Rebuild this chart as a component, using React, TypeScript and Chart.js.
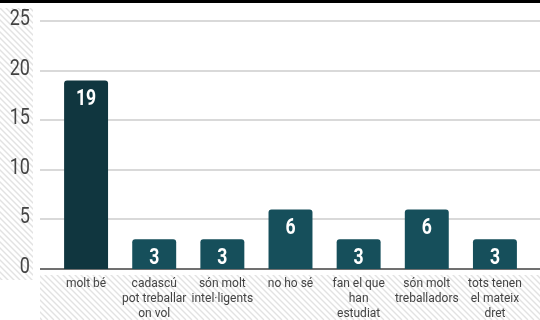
import React, { useEffect, useRef } from "react";
import { Chart, registerables } from "chart.js";

Chart.register(...registerables);

const categories: string[][] = [
  ["molt bé"],
  ["cadascú", "pot treballar", "on vol"],
  ["són molt", "intel·ligents"],
  ["no ho sé"],
  ["fan el que", "han", "estudiat"],
  ["són molt", "treballadors"],
  ["tots tenen", "el mateix", "dret"],
];
const values: number[] = [19, 3, 3, 6, 3, 6, 3];
const barColors: string[] = ["#10363f", "#164f5b", "#164f5b", "#164f5b", "#164f5b", "#164f5b", "#164f5b"];
const yMin = 0;
const yMax = 25;
const yStep = 5;

const FONT = "Roboto, 'Liberation Sans', sans-serif";

function narrowText(ctx: any, text: string, x: number, y: number, sx: number) {
  ctx.save();
  ctx.translate(x, y);
  ctx.scale(sx, 1);
  ctx.fillText(text, 0, 0);
  ctx.restore();
}

const backgroundPlugin = {
  id: "bgHatch",
  beforeDraw(chart: any) {
    const ctx = chart.ctx;
    ctx.save();
    ctx.fillStyle = "#ffffff";
    ctx.fillRect(0, 0, chart.width, chart.height);
    const regions = [
      [0, 8, 33, 272],
      [40, 275, 500, 45],
    ];
    ctx.strokeStyle = "#e2e2e2";
    ctx.lineWidth = 1.4;
    for (const [rx, ry, rw, rh] of regions) {
      ctx.save();
      ctx.beginPath();
      ctx.rect(rx, ry, rw, rh);
      ctx.clip();
      ctx.beginPath();
      for (let k = -chart.height; k < chart.width + chart.height; k += 6) {
        ctx.moveTo(k, 0);
        ctx.lineTo(k + chart.height, chart.height);
      }
      ctx.stroke();
      ctx.restore();
    }
    ctx.fillStyle = "#000000";
    ctx.fillRect(0, 0, chart.width, 3);
    ctx.restore();
  },
};

const gridPlugin = {
  id: "customGrid",
  beforeDatasetsDraw(chart: any) {
    const ctx = chart.ctx;
    const y = chart.scales.y;
    ctx.save();
    for (let v = yMin; v <= yMax; v += yStep) {
      const py = Math.round(y.getPixelForValue(v));
      ctx.beginPath();
      ctx.strokeStyle = v === 0 ? "#707070" : "#d9d9d9";
      ctx.lineWidth = 2;
      ctx.moveTo(40, py);
      ctx.lineTo(540, py);
      ctx.stroke();
      ctx.fillStyle = "#444444";
      ctx.font = `22px ${FONT}`;
      ctx.textAlign = "right";
      ctx.textBaseline = "middle";
      narrowText(ctx, String(v), 30, py - 2, 0.82);
    }
    ctx.restore();
  },
};

const labelPlugin = {
  id: "barLabels",
  afterDatasetsDraw(chart: any) {
    const ctx = chart.ctx;
    const meta = chart.getDatasetMeta(0);
    ctx.save();
    ctx.fillStyle = "#ffffff";
    ctx.font = `bold 22px ${FONT}`;
    ctx.textAlign = "center";
    ctx.textBaseline = "middle";
    meta.data.forEach((bar: any, i: number) => {
      narrowText(ctx, String(values[i]), bar.x, bar.y + 19, 0.8);
    });
    ctx.restore();
  },
};

export default function App() {
  const ref = useRef<HTMLCanvasElement>(null);
  useEffect(() => {
    document.body.style.margin = "0";
    const canvas = ref.current!;
    const chart = new Chart(canvas, {
      type: "bar",
      data: {
        labels: categories,
        datasets: [
          {
            data: values,
            backgroundColor: barColors,
            borderRadius: { topLeft: 3, topRight: 3, bottomLeft: 0, bottomRight: 0 },
            borderSkipped: false,
            categoryPercentage: 1,
            barPercentage: 0.645,
          },
        ],
      },
      options: {
        responsive: false,
        animation: false,
        layout: { padding: { top: 21, right: 11, left: 0, bottom: 0 } },
        plugins: {
          legend: { display: false },
          tooltip: { enabled: false },
        },
        scales: {
          x: {
            grid: { display: false, drawTicks: false },
            border: { display: false },
            ticks: {
              color: "#444444",
              font: { family: FONT, size: 12, lineHeight: 1.25 },
              padding: 7,
              maxRotation: 0,
              autoSkip: false,
            },
            afterFit: (s: any) => {
              s.height = 51;
            },
          },
          y: {
            min: yMin,
            max: yMax,
            ticks: { stepSize: yStep, display: false },
            grid: { display: false, drawTicks: false },
            border: { display: false },
            afterFit: (s: any) => {
              s.width = 52;
            },
          },
        },
      },
      plugins: [backgroundPlugin, gridPlugin, labelPlugin],
    });
    return () => chart.destroy();
  }, []);
  return (
    <canvas
      ref={ref}
      width={540}
      height={320}
      style={{ display: "block", width: 540, height: 320 }}
    />
  );
}
